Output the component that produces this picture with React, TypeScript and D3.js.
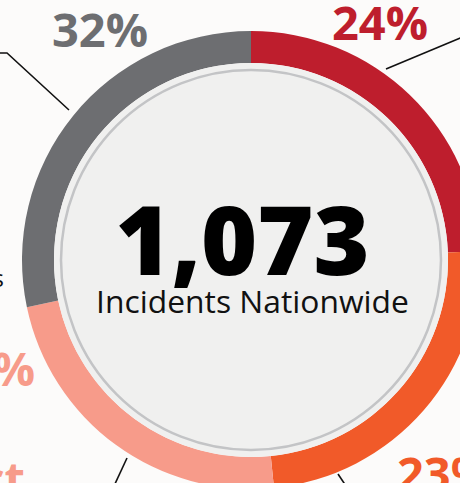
import React from "react";
import * as d3 from "d3";

// Ring segments, clockwise from 12 o'clock (arc shares as drawn)
const categories = ["Red", "Orange", "Pink", "Gray"];
const arcShares = [24.4, 24.0, 23.3, 28.3];
const labelTexts = ["24%", "23%", "21%", "32%"];
const colors = ["#be1e2d", "#f15a29", "#f79b8a", "#6d6e71"];
const totalText = "1,073";
const subtitleText = "Incidents Nationwide";

const W = 460;
const H = 483;
const cx = 251;
const cy = 260;
const R = 229;
const r = 197;

export default function App() {
  const pie = d3.pie<number>().sort(null).value((d) => d)(arcShares);
  const arc = d3.arc<d3.PieArcDatum<number>>().innerRadius(r).outerRadius(R);
  const font = "'Open Sans', 'Noto Sans', sans-serif";
  return (
    <svg
      width={W}
      height={H}
      style={{ position: "absolute", left: 0, top: 0 }}
      viewBox={`0 0 ${W} ${H}`}
    >
      <rect x={0} y={0} width={W} height={H} fill="#fcfbfa" />
      <g transform={`translate(${cx},${cy})`}>
        {pie.map((p, i) => (
          <path key={categories[i]} d={arc(p) || ""} fill={colors[i]} />
        ))}
        <circle r={r} fill="#f0f0ef" />
        <circle r={190} fill="none" stroke="#c3c4c6" strokeWidth={2.5} />
      </g>
      {/* leader lines */}
      <g fill="none" stroke="#111" strokeWidth={1.6}>
        <polyline points="-5,53 7,53 69,110" />
        <line x1={386} y1={69} x2={470} y2={34} />
        <line x1={127} y1={458} x2={114} y2={486} />
        <line x1={338} y1={474} x2={346} y2={486} />
      </g>
      {/* percentage labels */}
      <g fontFamily={font} fontWeight={700} fontSize={47}>
        <text x={52} y={47} fill={colors[3]}>{labelTexts[3]}</text>
        <text x={332} y={40} fill={colors[0]}>{labelTexts[0]}</text>
        <text x={397} y={491} fill={colors[1]}>{labelTexts[1]}</text>
        <text x={35} y={386} textAnchor="end" fill={colors[2]}>{labelTexts[2]}</text>
        <text x={25} y={496} textAnchor="end" fill={colors[2]}>Contact</text>
      </g>
      <text x={4} y={287} textAnchor="end" fontFamily={font} fontSize={24} fill="#111">
        Incidents
      </text>
      {/* center text */}
      <text
        x={242.5}
        y={275}
        textAnchor="middle"
        fontFamily={font}
        fontWeight={800}
        fontSize={96}
        fill="#000"
      >
        {totalText}
      </text>
      <text
        x={252.5}
        y={313}
        textAnchor="middle"
        fontFamily={font}
        fontSize={31.8}
        fill="#111"
      >
        {subtitleText}
      </text>
    </svg>
  );
}
